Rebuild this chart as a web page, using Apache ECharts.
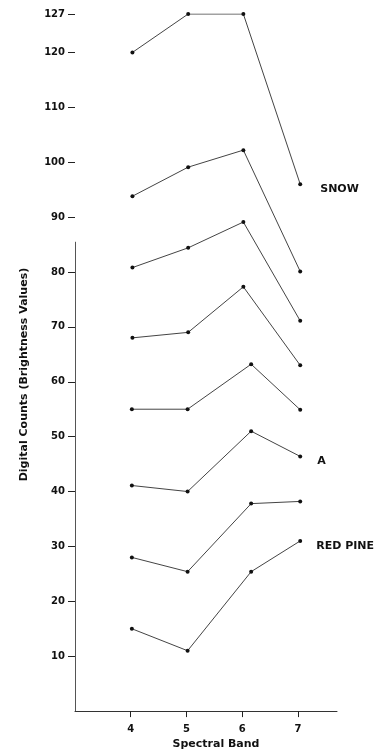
<!DOCTYPE html>
<html>
<head>
<meta charset="utf-8">
<script src="https://cdn.jsdelivr.net/npm/echarts@6/dist/echarts.min.js"></script>
<style>
html,body{margin:0;padding:0;background:#fff;}
#chart{width:383px;height:755px;}
</style>
</head>
<body>
<div id="chart"></div>
<script>
// ---- data ----
var bands = [4, 5, 6, 7];                       // x tick labels
var yTicks = [10, 20, 30, 40, 50, 60, 70, 80, 90, 100, 110, 120, 127];
// plotted band positions (hand-drawn original: band-6 points of the lower curves sit a little right)
var posUpper = [4.03, 5.03, 6.02, 7.04];
var posLower = [4.02, 5.02, 6.16, 7.04];

var snow    = [120, 127, 127, 96];
var curve2  = [93.8, 99.1, 102.2, 80.1];
var curve3  = [80.8, 84.4, 89.1, 71.1];
var curve4  = [68.0, 69.0, 77.3, 63.0];
var curve5  = [55.0, 55.0, 63.2, 54.9];
var classA  = [41.1, 40.0, 51.0, 46.4];
var curve7  = [28.0, 25.4, 37.8, 38.2];
var redPine = [15.0, 11.0, 25.4, 31.0];

var curves = [
  {name: 'SNOW', values: snow, pos: posUpper, label: 'SNOW', dx: 3},
  {name: 'c2', values: curve2, pos: posUpper},
  {name: 'c3', values: curve3, pos: posUpper},
  {name: 'c4', values: curve4, pos: posUpper},
  {name: 'c5', values: curve5, pos: posLower},
  {name: 'A', values: classA, pos: posLower, label: 'A', dx: 0},
  {name: 'c7', values: curve7, pos: posLower},
  {name: 'RED PINE', values: redPine, pos: posLower, label: 'RED PINE', dx: -1}
];
var axisLineTop = 85.5; // visible extent of the scanned y axis line

var FONT = 'DejaVu Sans';
var chart = echarts.init(document.getElementById('chart'), null, {renderer: 'canvas'});

var series = curves.map(function (c, si) {
  var data = c.values.map(function (v, i) {
    var d = {value: [c.pos[i], v]};
    if (c.label && i === c.values.length - 1) {
      d.label = {
        show: true, position: 'right', distance: 15, offset: [c.dx, 5],
        formatter: c.label, color: '#111', fontFamily: FONT,
        fontWeight: 'bold', fontSize: 11
      };
    }
    return d;
  });
  var s = {
    type: 'line', name: c.name, data: data,
    symbol: 'circle', symbolSize: 4,
    itemStyle: {color: '#111'},
    lineStyle: {color: '#444', width: 1},
    label: {show: false},
    animation: false, silent: true
  };
  if (si === 0) {
    s.markLine = {
      silent: true, symbol: ['none', 'none'], label: {show: false},
      lineStyle: {color: '#555', width: 1, type: 'solid'},
      data: [[{coord: [3, 0]}, {coord: [3, axisLineTop]}]]
    };
  }
  return s;
});

chart.setOption({
  backgroundColor: '#fff',
  animation: false,
  grid: {left: 75, right: 46, top: 14, bottom: 41, containLabel: false},
  xAxis: {
    type: 'value', min: 3, max: 7.7, interval: 1,
    name: 'Spectral Band', nameLocation: 'middle', nameGap: 26,
    nameTextStyle: {fontFamily: FONT, fontWeight: 'bold', fontSize: 11, color: '#111', padding: [0, 0, 0, 20]},
    axisLine: {show: true, lineStyle: {color: '#333', width: 1}},
    axisTick: {show: true, customValues: bands, length: 6, lineStyle: {color: '#222'}},
    axisLabel: {customValues: bands, margin: 13, fontFamily: FONT, fontWeight: 'bold', fontSize: 10, color: '#111'},
    splitLine: {show: false}
  },
  yAxis: {
    type: 'value', min: 0, max: 127, interval: 10,
    name: 'Digital Counts (Brightness Values)', nameLocation: 'middle', nameGap: 45,
    nameTextStyle: {fontFamily: FONT, fontWeight: 'bold', fontSize: 11, color: '#111', padding: [0, 24, 0, 0]},
    axisLine: {show: false},
    axisTick: {show: true, customValues: yTicks, length: 7, lineStyle: {color: '#222'}},
    axisLabel: {customValues: yTicks, margin: 10, fontFamily: FONT, fontWeight: 'bold', fontSize: 10, color: '#111'},
    splitLine: {show: false}
  },
  series: series
});
</script>
</body>
</html>
